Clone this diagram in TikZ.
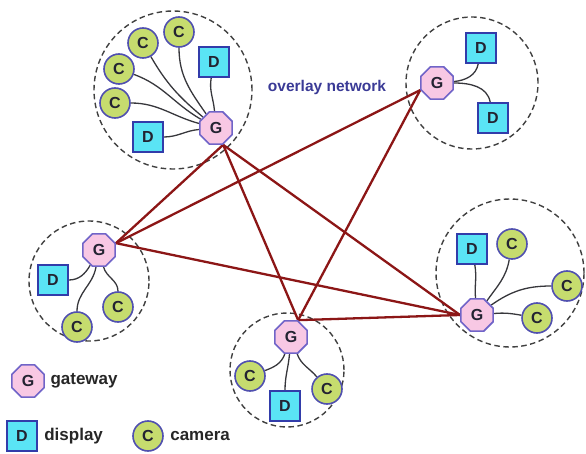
\documentclass[tikz,border=0pt]{standalone}
\usepackage{fontspec}
\setmainfont{Liberation Sans}
\usetikzlibrary{shapes.geometric}
\pgfdeclarelayer{bg}
\pgfsetlayers{bg,main}
\definecolor{gwfill}{RGB}{248,200,228}
\definecolor{gwline}{RGB}{112,100,200}
\definecolor{dpfill}{RGB}{90,228,245}
\definecolor{dpline}{RGB}{50,60,170}
\definecolor{cmfill}{RGB}{198,220,110}
\definecolor{cmline}{RGB}{80,80,175}
\definecolor{mesh}{RGB}{140,22,22}
\definecolor{linkc}{RGB}{55,55,60}
\definecolor{ovl}{RGB}{58,58,150}
\definecolor{letter}{RGB}{35,35,50}
\tikzset{
  gwnode/.style={regular polygon, regular polygon sides=8, draw=gwline, fill=gwfill,
    line width=1.6pt, minimum size=35pt, inner sep=0pt,
    font=\fontsize{16}{16}\selectfont\bfseries, text=letter},
  dpnode/.style={rectangle, draw=dpline, fill=dpfill, line width=1.6pt,
    minimum size=30pt, inner sep=0pt,
    font=\fontsize{16}{16}\selectfont\bfseries, text=letter},
  camnode/.style={circle, draw=cmline, fill=cmfill, line width=1.6pt,
    minimum size=30pt, inner sep=0pt,
    font=\fontsize{16}{16}\selectfont\bfseries, text=letter},
  zone/.style={circle, draw=black!75, dash pattern=on 5.5pt off 3.5pt,
    line width=1.4pt, inner sep=0pt},
  link/.style={draw=linkc, line width=1.3pt},
  meshline/.style={draw=mesh, line width=2.3pt, line cap=round},
  legendtext/.style={anchor=west, font=\fontsize{17}{17}\selectfont\bfseries, text=black!85}
}
\begin{document}
\begin{tikzpicture}[x=1pt,y=1pt]
\useasboundingbox (0,0) rectangle (586,453);

% gateway-centred clusters
\node[gwnode] (g1) at (216,325) {G};
\node[camnode] (c1a) at (179,421) {C};
\node[camnode] (c1b) at (143,410) {C};
\node[camnode] (c1c) at (119,384) {C};
\node[camnode] (c1d) at (115,350) {C};
\node[dpnode] (d1a) at (214,391) {D};
\node[dpnode] (d1b) at (148,316) {D};

\node[gwnode] (g2) at (437,370) {G};
\node[dpnode] (d2a) at (481,405) {D};
\node[dpnode] (d2b) at (493,335) {D};

\node[gwnode] (g3) at (99,203) {G};
\node[dpnode] (d3) at (53,173) {D};
\node[camnode] (c3a) at (77,126) {C};
\node[camnode] (c3b) at (118,146) {C};

\node[gwnode] (g4) at (477,138) {G};
\node[dpnode] (d4) at (472,204) {D};
\node[camnode] (c4a) at (512,209) {C};
\node[camnode] (c4b) at (567,167) {C};
\node[camnode] (c4c) at (537,135) {C};

\node[gwnode] (g5) at (291,116) {G};
\node[camnode] (c5a) at (250,77) {C};
\node[dpnode] (d5) at (285,47) {D};
\node[camnode] (c5b) at (327,64) {C};

\node[font=\fontsize{15.5}{15.5}\selectfont\bfseries, text=ovl] (ovl) at (327,366) {overlay network};

% legend
\node[gwnode] (lg) at (28,72) {G};
\node[legendtext] (lgt) at ([xshift=2pt]lg.east) {gateway};
\node[dpnode] (ld) at (22,17) {D};
\node[legendtext] (ldt) at ([xshift=3pt]ld.east) {display};
\node[camnode] (lc) at (148,17) {C};
\node[legendtext] (lct) at ([xshift=3pt]lc.east) {camera};

\begin{pgfonlayer}{bg}
  % dashed cluster boundaries
  \node[zone, minimum size=158pt] (z1) at (173,363) {};
  \node[zone, minimum size=132pt] (z2) at (472,370) {};
  \node[zone, minimum size=120pt] (z3) at (89,172) {};
  \node[zone, minimum size=148pt] (z4) at (510,180) {};
  \node[zone, minimum size=114pt] (z5) at (287,83) {};

  % overlay mesh between gateways
  \coordinate (h1) at (g1.-67.5);
  \coordinate (h2) at (g2.-157.5);
  \coordinate (h3) at (g3.22.5);
  \coordinate (h4) at (g4.west);
  \coordinate (h5) at (g5.67.5);
  \draw[meshline] (h1) -- (h3);
  \draw[meshline] (h1) -- (h5);
  \draw[meshline] (h1) -- (h4);
  \draw[meshline] (h2) -- (h3);
  \draw[meshline] (h2) -- (h5);
  \draw[meshline] (h3) -- (h4);
  \draw[meshline] (h5) -- (h4);

  % device links
  \draw[link] (c1a) to[out=-90, in=125] (g1);
  \draw[link] (c1b) to[out=-60, in=140] (g1);
  \draw[link] (c1c) to[out=-20, in=150] (g1);
  \draw[link] (c1d) to[out=0, in=165] (g1);
  \draw[link] (d1a) to[out=-100, in=95] (g1);
  \draw[link] (d1b) to[out=0, in=185] (g1);

  \draw[link] (g2) to[out=5, in=-100] (d2a);
  \draw[link] (g2) to[out=0, in=100] (d2b);

  \draw[link] (d3) to[out=0, in=-120] (g3);
  \draw[link] (c3a) to[out=90, in=-100] (g3);
  \draw[link] (c3b) to[out=90, in=-75] (g3);

  \draw[link] (d4) to[out=-80, in=95] (g4);
  \draw[link] (c4a) to[out=-100, in=55] (g4);
  \draw[link] (c4b) to[out=180, in=35] (g4);
  \draw[link] (c4c) to[out=170, in=5] (g4);

  \draw[link] (g5) to[out=-110, in=20] (c5a);
  \draw[link] (g5) to[out=-95, in=90] (d5);
  \draw[link] (g5) to[out=-70, in=130] (c5b);
\end{pgfonlayer}
\end{tikzpicture}
\end{document}
